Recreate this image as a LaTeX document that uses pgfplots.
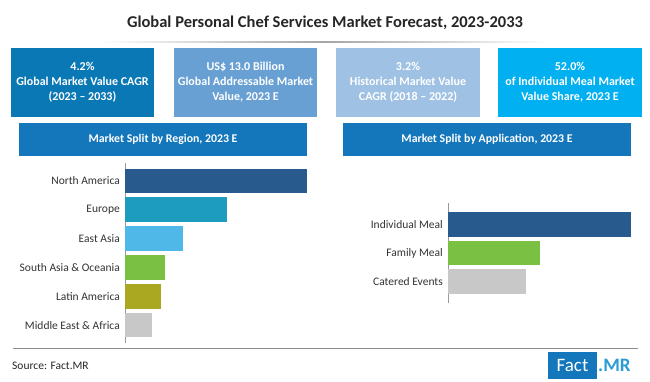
\documentclass[border=0pt]{standalone}
\usepackage{pgfplots}
\pgfplotsset{compat=1.18}
\usepackage{fontspec}
\setmainfont{Carlito}
\definecolor{boxA}{HTML}{0A78B4}
\definecolor{boxB}{HTML}{68A0D3}
\definecolor{boxC}{HTML}{9FC1E3}
\definecolor{boxD}{HTML}{00B0F0}
\definecolor{hdr}{HTML}{1477BC}
\definecolor{cNA}{HTML}{285A8E}
\definecolor{cEU}{HTML}{1E9CC0}
\definecolor{cEA}{HTML}{4FB8E8}
\definecolor{cSA}{HTML}{7AC143}
\definecolor{cLA}{HTML}{A9A820}
\definecolor{cME}{HTML}{C8C8C8}
\definecolor{lbl}{HTML}{333333}
\definecolor{mr}{HTML}{2B9BD6}
\begin{document}
\begin{tikzpicture}[x=1pt,y=1pt]
\useasboundingbox (0,0) rectangle (650,381);
\fill[white] (0,0) rectangle (650,381);
% title
\node[font=\fontsize{16.5}{19}\selectfont\bfseries, text=black!85] at (325,358) {Global Personal Chef Services Market Forecast, 2023-2033};
\shade[left color=white, right color=white, middle color=black!35] (100,338.7) rectangle (550,339.5);
% KPI boxes
\fill[boxA] (11,264) rectangle (154,333);
\fill[boxB] (174,264) rectangle (317,333);
\fill[boxC] (336,264) rectangle (480,333);
\fill[boxD] (498,264) rectangle (642,333);
\tikzset{kpi/.style={align=center, text=white, font=\fontsize{12}{15}\selectfont\bfseries, inner sep=0pt}}
\node[kpi] at (82.5,298.5) {4.2\%\\Global Market Value CAGR\\(2023 -- 2033)};
\node[kpi] at (245.5,298.5) {US\$ 13.0 Billion\\Global Addressable Market\\Value, 2023 E};
\node[kpi] at (408,298.5) {3.2\%\\Historical Market Value\\CAGR (2018 -- 2022)};
\node[kpi] at (570,298.5) {52.0\%\\of Individual Meal Market\\Value Share, 2023 E};
% section headers
\fill[hdr] (19,225) rectangle (307,258);
\fill[hdr] (343,225) rectangle (631,258);
\node[text=white, font=\fontsize{11.8}{13}\selectfont\bfseries] at (163,241.5) {Market Split by Region, 2023 E};
\node[text=white, font=\fontsize{11.8}{13}\selectfont\bfseries] at (487,241.5) {Market Split by Application, 2023 E};
% bottom line
\draw[black!45, line width=0.9pt] (13,33) -- (638,33);
\node[anchor=west, font=\fontsize{11.5}{13}\selectfont, text=black!85, inner sep=0pt] at (12,15) {Source: Fact.MR};
\fill[hdr] (548,2) rectangle (597,29);
\node[text=white, font=\fontsize{19}{21}\selectfont] at (572.5,15.5) {Fact};
\node[anchor=west, text=mr, font=\fontsize{19}{21}\selectfont\bfseries, inner sep=0pt] at (598,15.5) {.MR};
\pgfplotsset{
  splitbar/.style={
    scale only axis, xbar, bar width=24.5pt,
    axis x line=none, axis y line=left,
    axis line style={-, draw=black!40, line width=0.8pt},
    major tick length=0pt, ytick style={draw=none},
    yticklabel style={font=\fontsize{11.5}{13}\selectfont, text=lbl, inner sep=0pt, xshift=-5pt},
    xmin=0, clip=false,
  }
}
% region chart (bottom to top)
\begin{axis}[splitbar, at={(125pt,38pt)}, anchor=south west, width=182pt, height=180pt,
  xmax=182, ymin=-0.62, ymax=5.62, ytick={0,1,2,3,4,5},
  yticklabels={Middle East \& Africa, Latin America, South Asia \& Oceania, East Asia, Europe, North America}]
\addplot[xbar, bar shift=0pt, fill=cNA, draw=none] coordinates {(182,5)};
\addplot[xbar, bar shift=0pt, fill=cEU, draw=none] coordinates {(102,4)};
\addplot[xbar, bar shift=0pt, fill=cEA, draw=none] coordinates {(58,3)};
\addplot[xbar, bar shift=0pt, fill=cSA, draw=none] coordinates {(40,2)};
\addplot[xbar, bar shift=0pt, fill=cLA, draw=none] coordinates {(36,1)};
\addplot[xbar, bar shift=0pt, fill=cME, draw=none] coordinates {(27,0)};
\end{axis}
% application chart
\begin{axis}[splitbar, at={(448pt,78pt)}, anchor=south west, width=183pt, height=100pt,
  xmax=183, ymin=-0.754, ymax=2.754, ytick={0,1,2},
  yticklabels={Catered Events, Family Meal, Individual Meal}]
\addplot[xbar, bar shift=0pt, fill=cNA, draw=none] coordinates {(183,2)};
\addplot[xbar, bar shift=0pt, fill=cSA, draw=none] coordinates {(92,1)};
\addplot[xbar, bar shift=0pt, fill=cME, draw=none] coordinates {(78,0)};
\end{axis}
\end{tikzpicture}
\end{document}
